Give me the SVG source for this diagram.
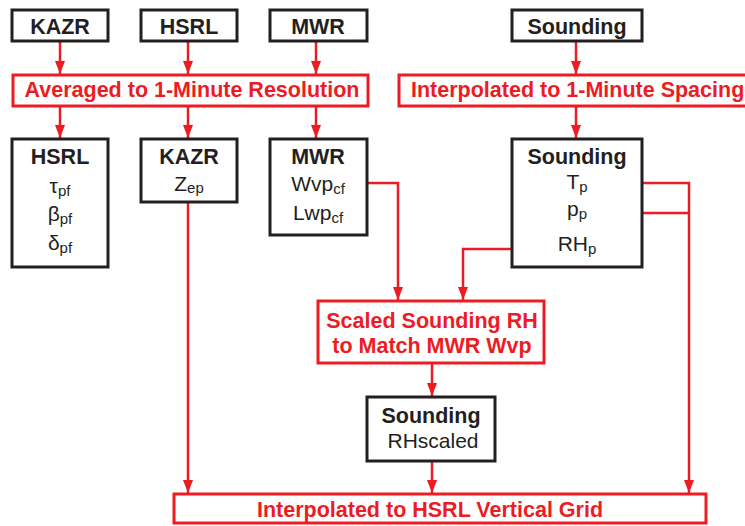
<svg xmlns="http://www.w3.org/2000/svg" width="745" height="526" viewBox="0 0 745 526">
<defs>
<style>
.bk{fill:#fff;stroke:#231F20;stroke-width:3}
.rb{fill:#fff;stroke:#ED1C24;stroke-width:3}
.t{font-family:"Liberation Sans",Arial,sans-serif;font-weight:bold;font-size:21.5px;fill:#231F20;text-anchor:middle}
.r{font-family:"Liberation Sans",Arial,sans-serif;font-weight:bold;font-size:21.5px;fill:#ED1C24;text-anchor:middle}
.n{font-family:"Liberation Sans",Arial,sans-serif;font-size:21px;fill:#231F20;text-anchor:middle}
.s{font-size:15px}
.c{fill:none;stroke:#ED1C24;stroke-width:2.5}
</style>
<marker id="ah" viewBox="0 0 13 10" refX="13" refY="5" markerWidth="13" markerHeight="10" markerUnits="userSpaceOnUse" orient="auto">
<path d="M0,0 L13,5 L0,10 Z" fill="#ED1C24"/>
</marker>
</defs>
<rect width="745" height="526" fill="#fff"/>

<g id="connectors">
<path class="c" d="M60,41 V74" marker-end="url(#ah)"/>
<path class="c" d="M188,41 V74" marker-end="url(#ah)"/>
<path class="c" d="M316,41 V74" marker-end="url(#ah)"/>
<path class="c" d="M576,41 V74" marker-end="url(#ah)"/>
<path class="c" d="M60,106 V138" marker-end="url(#ah)"/>
<path class="c" d="M188,106 V138" marker-end="url(#ah)"/>
<path class="c" d="M316,106 V138" marker-end="url(#ah)"/>
<path class="c" d="M576,106 V138" marker-end="url(#ah)"/>
<path class="c" d="M188,202 V493" marker-end="url(#ah)"/>
<path class="c" d="M367,183 H398 V300" marker-end="url(#ah)"/>
<path class="c" d="M512,249 H463 V300" marker-end="url(#ah)"/>
<path class="c" d="M642,183 H689 V493" marker-end="url(#ah)"/>
<path class="c" d="M642,213 H689"/>
<path class="c" d="M432,363 V396" marker-end="url(#ah)"/>
<path class="c" d="M432,461 V493" marker-end="url(#ah)"/>
</g>

<g id="kazr-in">
<rect class="bk" x="12" y="10" width="96" height="31"/>
<text class="t" x="60" y="34">KAZR</text>
</g>
<g id="hsrl-in">
<rect class="bk" x="141" y="10" width="96" height="31"/>
<text class="t" x="189" y="34">HSRL</text>
</g>
<g id="mwr-in">
<rect class="bk" x="270" y="10" width="97" height="31"/>
<text class="t" x="318" y="34">MWR</text>
</g>
<g id="sounding-in">
<rect class="bk" x="512" y="10" width="130" height="31"/>
<text class="t" x="577" y="34">Sounding</text>
</g>

<g id="averaged">
<rect class="rb" x="13" y="75" width="355" height="31"/>
<text class="r" x="192" y="97">Averaged to 1-Minute Resolution</text>
</g>
<g id="interp-1min">
<rect class="rb" x="399" y="75" width="370" height="31"/>
<text class="r" x="411" y="97" style="text-anchor:start">Interpolated to 1-Minute Spacing</text>
</g>

<g id="hsrl">
<rect class="bk" x="12" y="139" width="96" height="128"/>
<text class="t" x="60" y="164">HSRL</text>
<text class="n" x="60" y="193">τ<tspan class="s" dy="3">pf</tspan></text>
<text class="n" x="60" y="221">β<tspan class="s" dy="3">pf</tspan></text>
<text class="n" x="60" y="250">δ<tspan class="s" dy="3">pf</tspan></text>
</g>
<g id="kazr">
<rect class="bk" x="141" y="139" width="96" height="63"/>
<text class="t" x="189" y="164">KAZR</text>
<text class="n" x="189" y="191">Z<tspan class="s" dy="2">ep</tspan></text>
</g>
<g id="mwr">
<rect class="bk" x="270" y="139" width="97" height="96"/>
<text class="t" x="318" y="164">MWR</text>
<text class="n" x="318" y="191">Wvp<tspan class="s" dy="3">cf</tspan></text>
<text class="n" x="318" y="220">Lwp<tspan class="s" dy="3">cf</tspan></text>
</g>
<g id="sounding">
<rect class="bk" x="512" y="139" width="130" height="128"/>
<text class="t" x="577" y="164">Sounding</text>
<text class="n" x="577" y="189">T<tspan class="s" dy="3">p</tspan></text>
<text class="n" x="577" y="216">p<tspan class="s" dy="3">p</tspan></text>
<text class="n" x="577" y="251">RH<tspan class="s" dy="3">p</tspan></text>
</g>

<g id="scaled">
<rect class="rb" x="318" y="301" width="226" height="62"/>
<text class="r" x="432" y="328">Scaled Sounding RH</text>
<text class="r" x="432" y="353">to Match MWR Wvp</text>
</g>
<g id="sounding-scaled">
<rect class="bk" x="367" y="397" width="128" height="64"/>
<text class="t" x="431" y="423">Sounding</text>
<text class="n" x="433" y="448">RHscaled</text>
</g>
<g id="interp-grid">
<rect class="rb" x="174" y="494" width="532" height="29"/>
<text class="r" x="430" y="517">Interpolated to HSRL Vertical Grid</text>
</g>
</svg>
